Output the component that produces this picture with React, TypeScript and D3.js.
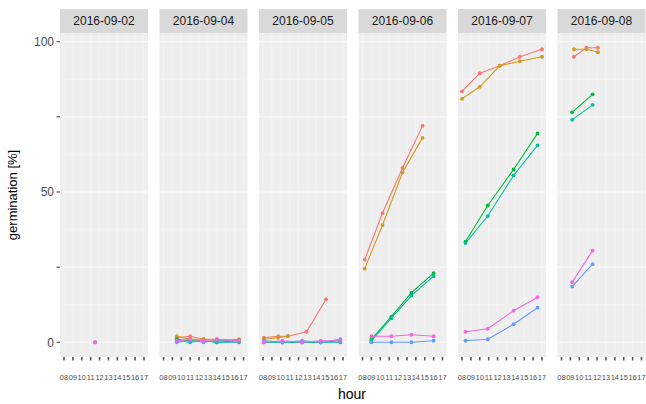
import React from "react";
import * as d3 from "d3";

// Facet dates (one panel each)
const dates = ["2016-09-02", "2016-09-04", "2016-09-05", "2016-09-06", "2016-09-07", "2016-09-08"];

// Seed lots / replicates, coloured with a hue palette
const lots = ["A1", "A2", "B1", "B2", "C1", "C2"];
const lotColors = ["#F8766D", "#D49A1A", "#00BA38", "#00BFA0", "#619CFF", "#F564E3"];

// Observations per date: [lot, hour, germination %]
type Obs = [string, number, number];

const obs0902: Obs[] = [
  ["C1", 11.5, 0],
  ["C2", 11.5, 0],
];

const obs0904: Obs[] = [
  ["A1", 9.5, 1.5], ["A1", 11, 2], ["A1", 12.5, 1], ["A1", 14, 1], ["A1", 16.5, 0.5],
  ["A2", 9.5, 2], ["A2", 11, 1], ["A2", 12.5, 1], ["A2", 14, 0.5], ["A2", 16.5, 1],
  ["B1", 9.5, 1], ["B1", 11, 0.5], ["B1", 12.5, 0.5], ["B1", 14, 0], ["B1", 16.5, 0.5],
  ["B2", 9.5, 0.5], ["B2", 11, 0], ["B2", 12.5, 0.5], ["B2", 14, 0], ["B2", 16.5, 0],
  ["C1", 9.5, 0], ["C1", 11, 0.5], ["C1", 12.5, 0], ["C1", 14, 0.5], ["C1", 16.5, 0.5],
  ["C2", 9.5, 0.5], ["C2", 11, 1], ["C2", 12.5, 0.5], ["C2", 14, 1], ["C2", 16.5, 0.5],
];

const obs0905: Obs[] = [
  ["A1", 8.1, 1.5], ["A1", 9.7, 2], ["A1", 10.8, 2], ["A1", 12.9, 3.5], ["A1", 15.1, 14.3],
  ["A2", 8.1, 1], ["A2", 9.7, 1.5], ["A2", 10.8, 2],
  ["B1", 8.1, 0], ["B1", 10.2, 0], ["B1", 12.4, 0], ["B1", 14.5, 0], ["B1", 16.7, 0.5],
  ["B2", 8.1, 0], ["B2", 10.2, 0], ["B2", 12.4, 0], ["B2", 14.5, 0], ["B2", 16.7, 0],
  ["C1", 8.1, 0.5], ["C1", 10.2, 0], ["C1", 12.4, 0.5], ["C1", 14.5, 0], ["C1", 16.7, 1],
  ["C2", 8.1, 0], ["C2", 10.2, 0.5], ["C2", 12.4, 0], ["C2", 14.5, 0.5], ["C2", 16.7, 0.5],
];

const obs0906: Obs[] = [
  ["A1", 8.25, 27.5], ["A1", 10.25, 43], ["A1", 12.5, 58], ["A1", 14.75, 72],
  ["A2", 8.25, 24.5], ["A2", 10.25, 39], ["A2", 12.5, 56.5], ["A2", 14.75, 68],
  ["B1", 9, 1], ["B1", 11.25, 8.5], ["B1", 13.5, 16.5], ["B1", 16, 23],
  ["B2", 9, 0.5], ["B2", 11.25, 8], ["B2", 13.5, 15.5], ["B2", 16, 22],
  ["C1", 9, 0], ["C1", 11.25, 0], ["C1", 13.5, 0], ["C1", 16, 0.5],
  ["C2", 9, 2], ["C2", 11.25, 2], ["C2", 13.5, 2.5], ["C2", 16, 2],
];

const obs0907: Obs[] = [
  ["A1", 8, 83.5], ["A1", 10, 89.5], ["A1", 12.25, 92], ["A1", 14.5, 95], ["A1", 17, 97.5],
  ["A2", 8, 81], ["A2", 10, 85], ["A2", 12.25, 92], ["A2", 14.5, 93.5], ["A2", 17, 95],
  ["B1", 8.4, 33.5], ["B1", 10.9, 45.5], ["B1", 13.8, 57.5], ["B1", 16.5, 69.5],
  ["B2", 8.4, 33], ["B2", 10.9, 42], ["B2", 13.8, 55.5], ["B2", 16.5, 65.5],
  ["C1", 8.4, 0.5], ["C1", 10.9, 1], ["C1", 13.8, 6], ["C1", 16.5, 11.5],
  ["C2", 8.4, 3.5], ["C2", 10.9, 4.5], ["C2", 13.8, 10.5], ["C2", 16.5, 15],
];

const obs0908: Obs[] = [
  ["A1", 9.4, 95], ["A1", 10.8, 98], ["A1", 12.1, 98],
  ["A2", 9.4, 97.5], ["A2", 10.8, 97.5], ["A2", 12.1, 96.5],
  ["B1", 9.2, 76.5], ["B1", 11.5, 82.5],
  ["B2", 9.2, 74], ["B2", 11.5, 79],
  ["C1", 9.2, 18.5], ["C1", 11.5, 26],
  ["C2", 9.2, 20], ["C2", 11.5, 30.5],
];

const observations = [obs0902, obs0904, obs0905, obs0906, obs0907, obs0908];

// Axis breaks
const yBreaks = [0, 25, 50, 75, 100];
const yLabels = ["0", "", "50", "", "100"];
const yMinor = [12.5, 37.5, 62.5, 87.5];
const xBreaks = [8, 9, 10, 11, 12, 13, 14, 15, 16, 17];

const W = 646;
const H = 404;
const panelLeft = 60;
const panelStep = 99.5;
const panelW = 88;
const stripTop = 9;
const panelTop = 33;
const panelBottom = 357;

const FONT = "'Liberation Sans', Arial, Helvetica, sans-serif";

function expand(lo: number, hi: number, f = 0.05): [number, number] {
  const d = (hi - lo) * f;
  return [lo - d, hi + d];
}

export default function App() {
  const allObs = observations.flat();
  const xExt = d3.extent(allObs, (d) => d[1]) as [number, number];
  const yExt: [number, number] = [0, d3.max(allObs, (d) => d[2]) as number];

  const x = d3.scaleLinear().domain(expand(xExt[0], xExt[1])).range([0, panelW]);
  const y = d3.scaleLinear().domain(expand(yExt[0], yExt[1])).range([panelBottom, panelTop]);
  const color = d3.scaleOrdinal<string, string>().domain(lots).range(lotColors);

  const line = d3
    .line<Obs>()
    .x((d) => x(d[1]))
    .y((d) => y(d[2]));

  return (
    <svg width={W} height={H} style={{ display: "block", position: "absolute", left: 0, top: 0 }} fontFamily={FONT}>
      <rect width={W} height={H} fill="#ffffff" />

      {dates.map((date, pi) => {
        const px = panelLeft + pi * panelStep;
        const grouped = d3.group(observations[pi], (d) => d[0]);
        return (
          <g key={date} transform={`translate(${px},0)`}>
            {/* panel background and grid */}
            <rect x={0} y={panelTop} width={panelW} height={panelBottom - panelTop} fill="#EEEEEE" />
            {yMinor.map((v) => (
              <line key={"ym" + v} x1={0} x2={panelW} y1={y(v)} y2={y(v)} stroke="#F6F6F6" strokeWidth={0.5} />
            ))}
            {yBreaks.map((v) => (
              <line key={"y" + v} x1={0} x2={panelW} y1={y(v)} y2={y(v)} stroke="#FAFAFA" strokeWidth={1} />
            ))}
            {xBreaks.map((v) => (
              <line key={"x" + v} x1={x(v)} x2={x(v)} y1={panelTop} y2={panelBottom} stroke="#F4F4F4" strokeWidth={0.8} />
            ))}

            {/* strip */}
            <rect x={0} y={stripTop} width={panelW} height={panelTop - stripTop} fill="#D9D9D9" />
            <text
              x={panelW / 2}
              y={(stripTop + panelTop) / 2}
              dy="0.36em"
              textAnchor="middle"
              fontSize={12}
              fill="#1A1A1A"
            >
              {date}
            </text>

            {/* series */}
            {lots.map((lot) => {
              const pts = grouped.get(lot);
              if (!pts) return null;
              const c = color(lot);
              return (
                <g key={lot}>
                  <path d={line(pts) ?? ""} fill="none" stroke={c} strokeWidth={1.1} />
                  {pts.map((d, k) => (
                    <circle key={k} cx={x(d[1])} cy={y(d[2])} r={1.9} fill={c} />
                  ))}
                </g>
              );
            })}

            {/* x axis ticks and labels */}
            {xBreaks.map((v) => (
              <g key={"xt" + v}>
                <line x1={x(v)} x2={x(v)} y1={panelBottom} y2={panelBottom + 3.5} stroke="#555555" strokeWidth={1.6} />
                <text x={x(v)} y={380} textAnchor="middle" fontSize={7.5} fill="#4D4D4D">
                  {d3.format("02d")(v)}
                </text>
              </g>
            ))}
          </g>
        );
      })}

      {/* y axis */}
      {yBreaks.map((v, i) => (
        <g key={"ya" + v}>
          <line x1={panelLeft - 3.5} x2={panelLeft} y1={y(v)} y2={y(v)} stroke="#333333" strokeWidth={1} />
          <text x={panelLeft - 6} y={y(v)} dy="0.36em" textAnchor="end" fontSize={12} fill="#4D4D4D">
            {yLabels[i]}
          </text>
        </g>
      ))}

      {/* axis titles */}
      <text x={352} y={399} textAnchor="middle" fontSize={14} fill="#000000">
        hour
      </text>
      <text
        transform={`translate(12,${(panelTop + panelBottom) / 2}) rotate(-90)`}
        dy="0.36em"
        textAnchor="middle"
        fontSize={13}
        fill="#000000"
      >
        germination [%]
      </text>
    </svg>
  );
}
